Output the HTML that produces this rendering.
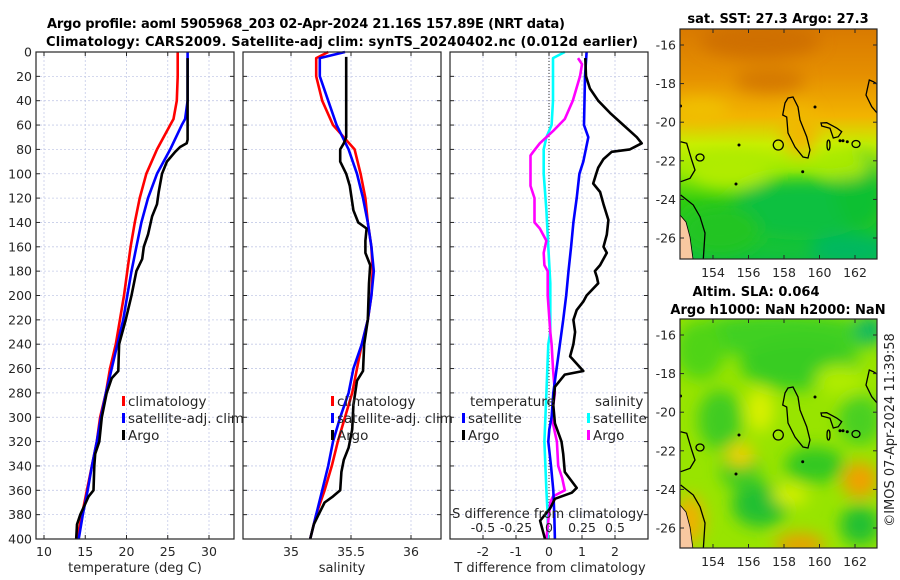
<!DOCTYPE html>
<html><head><meta charset="utf-8"><style>
html,body{margin:0;padding:0;background:#fff;width:900px;height:580px;overflow:hidden}
svg{display:block;font-family:"DejaVu Sans","Liberation Sans",sans-serif}
</style></head><body>
<svg id="fig" width="900" height="580" viewBox="0 0 900 580">
<defs>
<filter id="blur8" x="-50%" y="-50%" width="200%" height="200%"><feGaussianBlur stdDeviation="8"/></filter>
<clipPath id="clipM1"><rect x="680" y="29" width="197" height="230"/></clipPath>
<clipPath id="clipM2"><rect x="680" y="319" width="197" height="229"/></clipPath>
<linearGradient id="sstGrad" x1="0" y1="0" x2="0" y2="1">
<stop offset="0" stop-color="#d97a00"/><stop offset="0.2" stop-color="#e58f00"/><stop offset="0.38" stop-color="#f2b400"/>
<stop offset="0.5" stop-color="#c8ee00"/><stop offset="0.62" stop-color="#9aea00"/><stop offset="0.75" stop-color="#30cc10"/><stop offset="1" stop-color="#10c040"/>
</linearGradient>
</defs>
<text x="306" y="28" text-anchor="middle" font-weight="bold" font-size="13" textLength="518">Argo profile: aoml 5905968_203 02-Apr-2024 21.16S 157.89E (NRT data)</text>
<text x="342" y="46" text-anchor="middle" font-weight="bold" font-size="13" textLength="592">Climatology: CARS2009. Satellite-adj clim: synTS_20240402.nc (0.012d earlier)</text>
<g id="plots"></g>
<g id="maps"></g>
<text transform="translate(894,430) rotate(-90)" text-anchor="middle" font-size="13" fill="#262626">©IMOS 07-Apr-2024 11:39:58</text>
</svg>
<script>
// ---- data ----
const depthT=[0,20,40,55,60,80,100,120,140,160,180,200,220,240,260,280,300,320,340,360,380,400];
const tClim=[26.2,26.2,26.1,25.7,25.3,23.7,22.4,21.6,21.0,20.5,20.1,19.7,19.2,18.7,18.0,17.5,16.8,16.4,15.8,15.2,14.6,14.0];
const tSat=[27.4,27.4,27.4,27.1,26.7,25.3,23.7,22.6,21.8,21.2,20.6,20.1,19.6,18.9,18.2,17.5,16.9,16.4,15.8,15.3,14.7,14.2];
const depthArgoT=[5,72,75,78,82,90,100,115,125,135,150,160,170,180,200,220,240,262,268,280,300,320,330,340,360,365,380,388,400];
const tArgo=[27.4,27.4,27.3,26.5,25.9,24.9,24.3,23.9,23.7,23.1,22.6,22.1,21.9,21.2,20.6,19.9,19.1,19.0,18.2,17.6,17.0,16.7,16.2,16.1,16.0,15.4,14.4,14.0,13.9];
const depthS=[0,5,20,40,60,70,80,100,120,140,160,180,200,220,240,260,280,300,320,340,360,380,400];
const sClim=[35.31,35.21,35.21,35.26,35.35,35.44,35.53,35.58,35.62,35.64,35.67,35.68,35.67,35.64,35.59,35.55,35.51,35.45,35.39,35.34,35.28,35.21,35.16];
const sSat=[35.45,35.24,35.24,35.31,35.38,35.43,35.48,35.55,35.60,35.64,35.67,35.69,35.67,35.64,35.59,35.52,35.48,35.41,35.35,35.31,35.26,35.21,35.16];
const depthArgoS=[4,70,75,80,90,100,110,130,140,145,155,165,175,190,220,240,262,270,290,310,325,335,345,360,365,370,380,388,400];
const sArgo=[35.46,35.46,35.44,35.41,35.41,35.46,35.49,35.52,35.56,35.63,35.62,35.62,35.66,35.65,35.64,35.61,35.60,35.55,35.52,35.51,35.48,35.44,35.42,35.41,35.35,35.28,35.23,35.19,35.16];
const depthDT=[0,20,60,70,90,100,120,140,160,180,200,220,240,260,280,300,310,320,340,360,380,400];
const dtSat=[1.14,1.09,1.06,1.19,1.04,0.92,0.84,0.74,0.67,0.59,0.52,0.43,0.33,0.23,0.13,0.08,0.01,-0.02,0.06,0.13,0.16,0.18];
const depthDTA=[5,20,30,40,50,60,70,75,80,82,88,95,100,108,115,125,138,150,160,165,175,180,185,190,200,205,212,220,230,240,250,262,265,275,290,305,320,330,345,358,362,367,375,385,392,400];
const dtArgo=[1.1,1.12,1.24,1.49,1.85,2.25,2.66,2.81,2.45,1.9,1.65,1.49,1.43,1.34,1.55,1.65,1.8,1.75,1.65,1.75,1.55,1.39,1.45,1.49,1.14,1.04,0.84,0.74,0.79,0.74,0.64,1.04,0.48,0.18,0.13,0.18,0.38,0.43,0.48,0.84,0.69,0.18,0.03,-0.27,-0.2,-0.12];
const depthDS=[0,5,40,60,70,80,100,130,160,190,230,240,280,320,360,380,400];
const dsSat=[0.12,0.03,0.03,0.02,-0.02,-0.04,-0.04,-0.02,-0.005,0.01,0.01,-0.005,-0.02,-0.035,-0.02,-0.01,-0.01];
const depthDSA=[5,10,20,40,55,65,75,82,85,110,120,140,145,155,165,175,180,200,230,240,260,280,300,320,340,350,360,365,370,385,400];
const dsArgo=[0.22,0.25,0.235,0.18,0.12,0.03,-0.07,-0.12,-0.14,-0.14,-0.11,-0.11,-0.07,-0.02,-0.04,-0.035,-0.01,-0.01,0.01,0.02,0.03,0.045,0.02,0.06,0.07,0.1,0.12,0.03,0.01,-0.005,-0.02];
const depthTicks=[0,20,40,60,80,100,120,140,160,180,200,220,240,260,280,300,320,340,360,380,400];
const tTicks=[10,15,20,25,30];
const sTicks=[35,35.5,36];
const sTickLabels=["35","35.5","36"];
const dtTicks=[-2,-1,0,1,2];
const dsTicks=[-0.5,-0.25,0,0.25,0.5];
const latTicks=[-16,-18,-20,-22,-24,-26];
const lonTicks=[154,156,158,160,162];

const NS="http://www.w3.org/2000/svg";
function mk(tag,attrs,parent){const e=document.createElementNS(NS,tag);for(const k in attrs)e.setAttribute(k,attrs[k]);(parent||document.getElementById('plots')).appendChild(e);return e;}
const Y0=52,Y1=539;
const yD=d=>Y0+(Y1-Y0)*d/400;
const xT=v=>36+(v-9.03)*8.25;
const xS=v=>291+(v-35)*120;
const xDT=v=>549+v*33;
const xDS=v=>549+v*132;
const panels=[{x0:36,name:'temperature'},{x0:243,name:'salinity'},{x0:450,name:'difference'}];
const W=198;

panels.forEach((p,i)=>{
  const bg=mk('rect',{x:p.x0,y:Y0,width:W,height:Y1-Y0,fill:'#fff'});
  
  
  depthTicks.forEach(d=>{
    const g=mk('line',{x1:p.x0,x2:p.x0+W,y1:yD(d),y2:yD(d),stroke:'#c5cbe8','stroke-width':0.8,'stroke-dasharray':'2,2'});
    
    
    [p.x0,p.x0+W-4].forEach(tx=>{const t=mk('line',{x1:tx,x2:tx+4,y1:yD(d),y2:yD(d),stroke:'#262626','stroke-width':1});
      
      });
  });
});
function vgrid(vals,fx){vals.forEach(v=>{const g=mk('line',{x1:fx(v),x2:fx(v),y1:Y0,y2:Y1,stroke:'#c5cbe8','stroke-width':0.8,'stroke-dasharray':'2,2'});
  
  
  [Y0,Y1-4].forEach(ty=>{const t=mk('line',{x1:fx(v),x2:fx(v),y1:ty,y2:ty+4,stroke:'#262626','stroke-width':1});
    
    });});}
vgrid(tTicks,xT);vgrid(sTicks,xS);vgrid(dtTicks,xDT);
const zl=mk('line',{x1:549,x2:549,y1:Y0,y2:Y1,stroke:'#333','stroke-width':1,'stroke-dasharray':'1,2'});



function line(ds,vs,fx,color,name){
  const pts=ds.map((d,i)=>fx(vs[i]).toFixed(1)+','+yD(d).toFixed(1)).join(' ');
  const e=mk('polyline',{points:pts,fill:'none',stroke:color,'stroke-width':2.6,'stroke-linejoin':'round'});
  
  
}
line(depthT,tClim,xT,'#ff0000','temperature-climatology-line');
line(depthT,tSat,xT,'#0000ff','temperature-satellite-line');
line(depthArgoT,tArgo,xT,'#000','temperature-argo-line');
line(depthS,sClim,xS,'#ff0000','salinity-climatology-line');
line(depthS,sSat,xS,'#0000ff','salinity-satellite-line');
line(depthArgoS,sArgo,xS,'#000','salinity-argo-line');
line(depthDS,dsSat,xDS,'#00ffff','salinity-satellite-diff-line');
line(depthDSA,dsArgo,xDS,'#ff00ff','salinity-argo-diff-line');
line(depthDT,dtSat,xDT,'#0000ff','temperature-satellite-diff-line');
line(depthDTA,dtArgo,xDT,'#000','temperature-argo-diff-line');

panels.forEach(p=>{const b=mk('rect',{x:p.x0,y:Y0,width:W,height:Y1-Y0,fill:'none',stroke:'#262626','stroke-width':1.2});
  
  });

function txt(x,y,s,opts,name){const e=mk('text',Object.assign({x:x,y:y,'font-size':12.5,fill:'#262626'},opts||{}));e.textContent=s;
  
  return e;}
depthTicks.forEach(d=>txt(32,yD(d)+4.5,String(d),{'text-anchor':'end'},'depth-tick-label'));
tTicks.forEach(v=>txt(xT(v),556,String(v),{'text-anchor':'middle'},'temperature-tick-label'));
sTicks.forEach((v,i)=>txt(xS(v),556,sTickLabels[i],{'text-anchor':'middle'},'salinity-tick-label'));
dtTicks.forEach(v=>txt(xDT(v),556,String(v),{'text-anchor':'middle'},'t-diff-tick-label'));
dsTicks.forEach(v=>txt(xDS(v),532,String(v),{'text-anchor':'middle'},'s-diff-tick-label'));
txt(135,572,'temperature (deg C)',{'text-anchor':'middle','font-size':13},'temperature-axis-title');
txt(342,572,'salinity',{'text-anchor':'middle','font-size':13},'salinity-axis-title');
txt(550,572,'T difference from climatology',{'text-anchor':'middle','font-size':13},'t-diff-axis-title');
txt(548,518,'S difference from climatology',{'text-anchor':'middle','font-size':13},'s-diff-axis-title');

function legend(x,y,color,label,name){
  const m=mk('rect',{x:x,y:y-10,width:3,height:10,fill:color});
  
  
  txt(x+6,y,label,{'font-size':13.5},name+'-label');}
legend(122,406,'#ff0000','climatology','legend-climatology');
legend(122,423,'#0000ff','satellite-adj. clim','legend-satellite');
legend(122,440,'#000','Argo','legend-argo');
legend(331,406,'#ff0000','climatology','legend-s-climatology');
legend(331,423,'#0000ff','satellite-adj. clim','legend-s-satellite');
legend(331,440,'#000','Argo','legend-s-argo');
txt(470,406,'temperature',{'font-size':13.5},'legend-temperature-heading');
legend(462,423,'#0000ff','satellite','legend-dt-satellite');
legend(462,440,'#000','Argo','legend-dt-argo');
txt(595,406,'salinity',{'font-size':13.5},'legend-salinity-heading');
legend(587,423,'#00ffff','satellite','legend-ds-satellite');
legend(587,440,'#ff00ff','Argo','legend-ds-argo');

// ---- maps ----
const M=document.getElementById('maps');
const lonX=l=>713+(l-154)*17.75;
function latY(l,top){return top+16+(-16-l)*19.3;}
function contours(g,dy){
  const paths=[
   'M788,98 L793,97 L798,107 L800,120 L806.7,136.7 L810,150 L808,158 L803,157 L795,147 L788,133 L786.7,117 L782.7,115 L785,103 Z',
   'M821,123 L826.7,122.7 L836.7,128 L841.7,131.7 L838.3,136.7 L833.3,138 L830,128.3 L821.7,126 Z',
   'M869.3,80 L873.3,81.7 L877,84 L877,113 L871.7,106.7 L866,95 Z',
   'M680.7,141.7 L686.7,143.3 L691.7,160 L695,170 L690,178.3 L680.7,181.7',
   'M680.7,195 L693.3,205 L700,216.7 L705,233 L703.3,259'];
  paths.forEach(d=>{const e=mk('path',{d:d,fill:'none',stroke:'#000','stroke-width':1.3,transform:'translate(0,'+dy+')'},g);
    
    });
  const land=mk('path',{d:'M680,215 L686,222 L690,237 L693,259 L680,259 Z',fill:'#f8c8a0',stroke:'#000','stroke-width':0.8,transform:'translate(0,'+dy+')'},g);
  
  
  [[778.3,145,5,5],[700,157.5,4,3.5],[856,144,4,3.5],[828.5,145,1.5,5]].forEach(c=>{
    const e=mk('ellipse',{cx:c[0],cy:c[1]+dy,rx:c[2],ry:c[3],fill:'none',stroke:'#000','stroke-width':1.3},g);
    
    });
  [[739,145],[736,184],[802.7,171.7],[815,107],[840,140.7],[843,140.7],[847.3,141.7],[680.5,106]].forEach(c=>{
    const e=mk('circle',{cx:c[0],cy:c[1]+dy,r:1.5,fill:'#000'},g);
    
    });
}
function mapAxes(top,h,name){
  const f=mk('rect',{x:680,y:top,width:197,height:h,fill:'none',stroke:'#262626','stroke-width':1.2},M);
  
  
  latTicks.forEach(l=>{const y=latY(l,top);
    const t=mk('text',{x:676,y:y+4.5,'text-anchor':'end','font-size':12.5,fill:'#262626'},M);t.textContent=String(l);
    
    
    [680,873].forEach(x=>{const k=mk('line',{x1:x,x2:x+4,y1:y,y2:y,stroke:'#262626'},M);
      
      });});
  lonTicks.forEach(l=>{const x=lonX(l);
    const t=mk('text',{x:x,y:top+h+18,'text-anchor':'middle','font-size':12.5,fill:'#262626'},M);t.textContent=String(l);
    
    
    [top,top+h-4].forEach(y=>{const k=mk('line',{x1:x,x2:x,y1:y,y2:y+4,stroke:'#262626'},M);
      
      });});
}
// SST map
const g1=mk('g',{'clip-path':'url(#clipM1)'},M);


mk('rect',{x:680,y:29,width:197,height:230,fill:'url(#sstGrad)'},g1);
const gb1=mk('g',{filter:'url(#blur8)'},g1);
[[760,40,60,18,'#cf6f00'],[770,80,35,12,'#d47800'],[700,110,30,12,'#f0c000'],[730,170,40,18,'#b0ec00'],[800,210,70,30,'#10c040'],[720,230,40,25,'#22c424'],[860,190,25,40,'#10c030'],[850,250,40,15,'#00b860'],[800,130,18,25,'#f0b800'],[845,165,25,14,'#a8ea00']].forEach(b=>mk('ellipse',{cx:b[0],cy:b[1],rx:b[2],ry:b[3],fill:b[4]},gb1));
contours(g1,0);
mapAxes(29,230,'sst-map');
// SLA map
const g2=mk('g',{'clip-path':'url(#clipM2)'},M);


mk('rect',{x:680,y:319,width:197,height:229,fill:'#98e400'},g2);
const gb2=mk('g',{filter:'url(#blur8)'},g2);
[[780,335,100,22,'#40d020'],[800,365,60,25,'#38cc20'],[870,330,15,15,'#10b860'],[700,350,25,30,'#50d418'],[720,420,22,30,'#40cc20'],[760,410,14,22,'#d8f000'],[740,470,20,20,'#40cc20'],[815,465,30,18,'#30c820'],[860,420,22,25,'#48d020'],[760,505,28,22,'#20c030'],[860,525,20,20,'#20c030'],[860,480,18,18,'#f0a000'],[800,545,25,12,'#e8a000'],[690,520,14,25,'#f0b000'],[740,455,14,12,'#f0d000'],[790,495,18,10,'#d8f000'],[840,380,25,15,'#b0ec00']].forEach(b=>mk('ellipse',{cx:b[0],cy:b[1],rx:b[2],ry:b[3],fill:b[4]},gb2));
contours(g2,290);
mapAxes(319,229,'sla-map');
function mt(x,y,s,name){const t=mk('text',{x:x,y:y,'text-anchor':'middle','font-weight':'bold','font-size':13,fill:'#000'},M);t.textContent=s;
  
  }
mt(778,23,'sat. SST: 27.3 Argo: 27.3','sst-map-title');
mt(756,296,'Altim. SLA: 0.064','sla-map-title-1');
mt(778,314,'Argo h1000: NaN h2000: NaN','sla-map-title-2');
</script>
</body></html>
